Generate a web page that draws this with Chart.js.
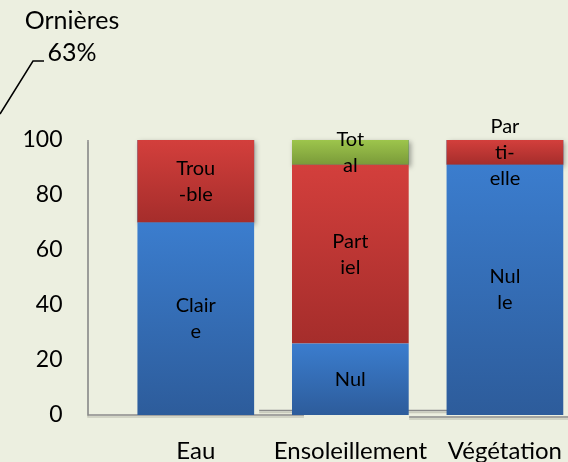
<!DOCTYPE html>
<html lang="fr">
<head>
<meta charset="utf-8">
<script src="https://cdn.jsdelivr.net/npm/chart.js@4.4.1/dist/chart.umd.min.js"></script>
<style>
    html, body { margin: 0; padding: 0; background: #ECEFE0; overflow: hidden; }
    #myChart { display: block; }
</style>
</head>
<body>
<canvas id="myChart" width="584" height="462"></canvas>
<script>
const categories = ['Eau', 'Ensoleillement', 'Végétation'];
const bleuValues = [70, 26, 91];
const rougeValues = [30, 65, 9];
const vertValues = [null, 9, null];
const bleuLabels = [['Clair', 'e'], ['Nul'], ['Nul', 'le']];
const rougeLabels = [['Trou', '-ble'], ['Part', 'iel'], ['Par', 'ti-', 'elle']];
const vertLabels = [null, ['Tot', 'al'], null];
const yTicks = [0, 20, 40, 60, 80, 100];
const titre = ['Ornières', '63%'];

const police = 'Lato, "Open Sans", sans-serif';

// dégradé vertical calculé sur chaque segment de la pile
function degrade(haut, bas) {
    return (context) => {
        const chart = context.chart;
        const y = chart.scales.y;
        if (!chart.chartArea || !y || context.type !== 'data') return bas;
        const i = context.dataIndex;
        let debut = 0;
        for (let d = 0; d < context.datasetIndex; d++) {
            debut += chart.data.datasets[d].data[i] || 0;
        }
        const top = y.getPixelForValue(debut + (context.raw || 0));
        const bottom = y.getPixelForValue(debut);
        if (!isFinite(top) || top === bottom) return bas;
        const g = chart.ctx.createLinearGradient(0, top, 0, bottom);
        g.addColorStop(0, haut);
        g.addColorStop(1, bas);
        return g;
    };
}

const decor = {
    id: 'decor',
    beforeDatasetsDraw(chart) {
        const { ctx, chartArea, scales } = chart;
        const x = scales.x;
        const y0 = scales.y.getPixelForValue(0);
        const y100 = scales.y.getPixelForValue(100);
        const axeX = chartArea.left - 30.5;
        const pas = x.getPixelForValue(1) - x.getPixelForValue(0);

        const trait = (pts) => {
            ctx.strokeStyle = '#c9cbbd';
            ctx.lineWidth = 1.5;
            ctx.beginPath();
            pts.forEach(([px, py], k) => k ? ctx.lineTo(px, py + 2) : ctx.moveTo(px, py + 2));
            ctx.stroke();
            ctx.strokeStyle = '#8a8a8a';
            ctx.lineWidth = 1.5;
            ctx.beginPath();
            pts.forEach(([px, py], k) => k ? ctx.lineTo(px, py) : ctx.moveTo(px, py));
            ctx.stroke();
        };

        ctx.save();
        // axes des trois graphiques superposés
        trait([[axeX, y100], [axeX, y0], [x.getPixelForValue(0) + pas * 0.7, y0]]);
        trait([[x.getPixelForValue(0) + pas * 0.41, y0 - 4.5], [x.getPixelForValue(1) + pas * 0.7, y0 - 4.5]]);
        trait([[x.getPixelForValue(2) - pas * 0.62, y0 + 2], [chart.width, y0 + 2]]);

        // ombre portée des barres
        ctx.shadowColor = 'rgba(0,0,0,0.35)';
        ctx.shadowBlur = 5;
        ctx.shadowOffsetX = 2;
        ctx.shadowOffsetY = 2;
        ctx.fillStyle = '#2f5f9e';
        categories.forEach((c, i) => {
            let top = Infinity, base = 0, bx = 0, bw = 0;
            chart.data.datasets.forEach((ds, d) => {
                const bar = chart.getDatasetMeta(d).data[i];
                if (ds.data[i] == null || !bar) return;
                top = Math.min(top, bar.y);
                base = bar.base; bx = bar.x; bw = bar.width;
            });
            if (isFinite(top)) ctx.fillRect(bx - bw / 2, top, bw, base - top);
        });
        ctx.restore();
    },
    afterDatasetsDraw(chart) {
        const { ctx } = chart;
        ctx.save();
        ctx.fillStyle = '#000';
        ctx.font = '20px ' + police;
        ctx.textAlign = 'center';
        ctx.textBaseline = 'middle';
        chart.data.datasets.forEach((ds, d) => {
            chart.getDatasetMeta(d).data.forEach((bar, i) => {
                const lignes = ds.etiquettes[i];
                if (!lignes || ds.data[i] == null) return;
                const cy = (bar.y + bar.base) / 2;
                lignes.forEach((l, k) => {
                    ctx.fillText(l, bar.x, cy + (k - (lignes.length - 1) / 2) * 26);
                });
            });
        });

        // titre et trait de rappel
        ctx.font = '25px ' + police;
        ctx.textBaseline = 'alphabetic';
        ctx.fillText(titre[0], 72, 29);
        ctx.fillText(titre[1], 72, 61);
        ctx.strokeStyle = '#000';
        ctx.lineWidth = 1.5;
        ctx.beginPath();
        ctx.moveTo(44, 61);
        ctx.lineTo(33, 61);
        ctx.lineTo(0, 114);
        ctx.stroke();
        ctx.restore();
    }
};

const ctx = document.getElementById('myChart').getContext('2d');

new Chart(ctx, {
    type: 'bar',
    data: {
        labels: categories,
        datasets: [
            { data: bleuValues, etiquettes: bleuLabels, backgroundColor: degrade('#3b7dce', '#2d5c9b') },
            { data: rougeValues, etiquettes: rougeLabels, backgroundColor: degrade('#d33f3c', '#a52d2b') },
            { data: vertValues, etiquettes: vertLabels, backgroundColor: degrade('#9dc54c', '#7a9a39') }
        ]
    },
    options: {
        responsive: false,
        animation: false,
        barPercentage: 0.755,
        categoryPercentage: 1,
        borderWidth: 0,
        layout: { padding: { top: 140, left: 0, right: 0, bottom: 0 } },
        plugins: {
            legend: { display: false },
            tooltip: { enabled: false }
        },
        scales: {
            x: {
                stacked: true,
                grid: { display: false, drawTicks: false },
                border: { display: false },
                afterFit: (scale) => { scale.height = 47; },
                ticks: {
                    color: '#000',
                    font: { family: police, size: 24 },
                    padding: 22,
                    maxRotation: 0,
                    autoSkip: false
                }
            },
            y: {
                stacked: true,
                min: 0,
                max: 100,
                grid: { display: false, drawTicks: false },
                border: { display: false },
                afterFit: (scale) => {
                    scale.width = 118.5;
                    scale.paddingTop = 14;
                    scale.paddingBottom = 14;
                },
                afterBuildTicks: (scale) => { scale.ticks = yTicks.map(v => ({ value: v })); },
                ticks: {
                    color: '#000',
                    font: { family: police, size: 23 },
                    padding: 56
                }
            }
        }
    },
    plugins: [decor]
});
</script>
</body>
</html>
